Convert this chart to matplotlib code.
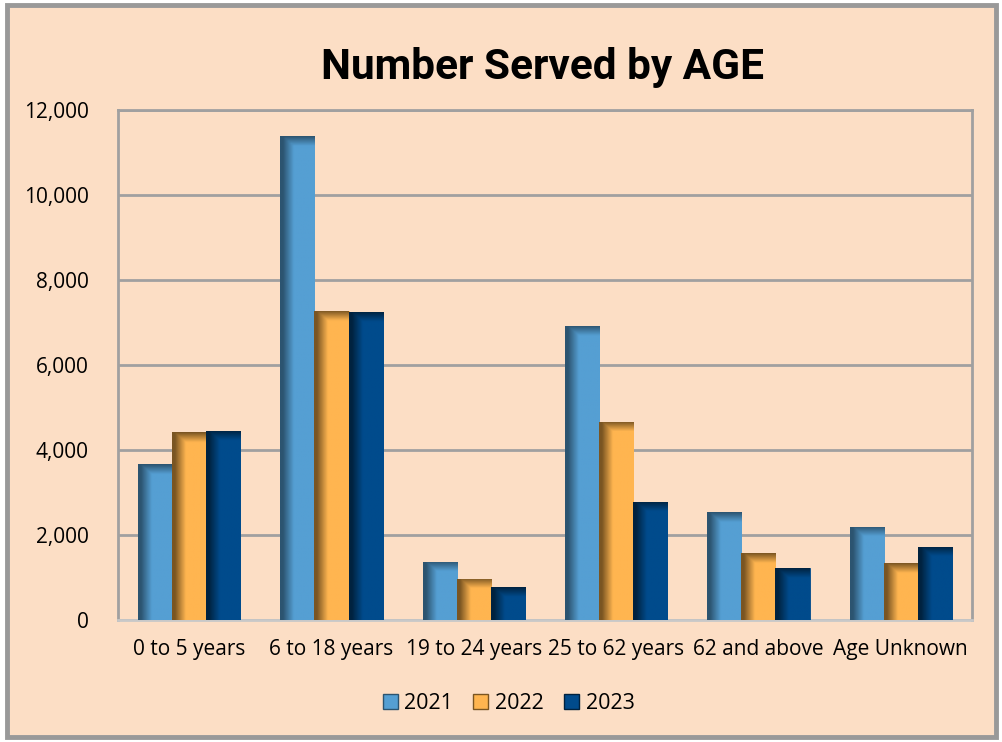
import numpy as np
import matplotlib.pyplot as plt
from matplotlib.colors import to_rgb
from matplotlib.patches import Rectangle

categories = ['0 to 5 years', '6 to 18 years', '19 to 24 years', '25 to 62 years',
              '62 and above', 'Age Unknown']
years = ['2021', '2022', '2023']
v2021 = [3670, 11390, 1365, 6920, 2540, 2190]
v2022 = [4420, 7270, 965, 4660, 1575, 1340]
v2023 = [4450, 7250, 775, 2780, 1220, 1720]

light = ['#559fd3', '#ffb550', '#004b8c']
dark = ['#2c5470', '#7a5522', '#00223f']
bg = '#fcdec5'

fig = plt.figure(figsize=(10.03, 7.42), dpi=100, facecolor='white')
fig.patches.append(Rectangle((0.007, 0.007), 0.986, 0.986, transform=fig.transFigure,
                             facecolor=bg, edgecolor='#999999', linewidth=3.5, zorder=-10))
ax = fig.add_axes([0.1176, 0.1644, 0.8514, 0.6874])
ax.set_facecolor(bg)

x = np.arange(len(categories))
w = 0.24
ax.set_xlim(-0.5, len(categories) - 0.5)
ax.set_ylim(0, 12000)


def shaded_bar(xc, h, c_light, c_dark):
    bar = ax.bar(xc, h, w, color=c_light, edgecolor=c_light, linewidth=0.6, zorder=3)[0]
    lt = np.array(to_rgb(c_light))
    dk = np.array(to_rgb(c_dark))
    nx = 60
    fx = np.linspace(0, 1, nx)
    t = np.clip((fx - 0.08) / 0.32, 0, 1)
    rows = 200
    fy = np.linspace(1, 0, rows) * h  # top row first
    bevel = 230.0
    ty = np.clip((h - fy) / bevel, 0, 1)
    tt = np.minimum(t[None, :], ty[:, None])
    img = dk[None, None, :] * (1 - tt[..., None]) + lt[None, None, :] * tt[..., None]
    im = ax.imshow(img, extent=(xc - w / 2, xc + w / 2, 0, h), aspect='auto',
                   interpolation='bilinear', zorder=3.5)
    im.set_clip_path(bar)
    return bar


series = [v2021, v2022, v2023]
for i, vals in enumerate(series):
    for j, v in enumerate(vals):
        shaded_bar(x[j] + (i - 1) * w, v, light[i], dark[i])

ax.set_xlim(-0.5, len(categories) - 0.5)
ax.set_ylim(0, 12000)
ax.set_yticks(range(0, 12001, 2000))
ax.set_yticklabels([f'{t:,}' for t in range(0, 12001, 2000)])
ax.set_xticks(x)
ax.set_xticklabels(categories)
ax.tick_params(length=0, labelsize=15)
for lab in ax.get_xticklabels() + ax.get_yticklabels():
    lab.set_fontfamily('Open Sans')
ax.tick_params(axis='x', pad=14)
ax.tick_params(axis='y', pad=21)
ax.grid(axis='y', color='#a0a0a0', linewidth=2, zorder=1)
for s in ['left', 'right', 'top']:
    ax.spines[s].set_color('#a0a0a0')
    ax.spines[s].set_linewidth(2)
ax.spines['bottom'].set_color('#c8c8c8')
ax.spines['bottom'].set_linewidth(2)

fig.text(0.541, 0.909, 'Number Served by AGE', ha='center', va='center',
         fontsize=30.5, fontweight='bold', family='Roboto')

handles = [Rectangle((0, 0), 1, 1, facecolor=light[i], edgecolor=dark[i]) for i in range(3)]
fig.legend(handles, years, loc='center', bbox_to_anchor=(0.507, 0.052), ncol=3, frameon=False,
           prop={'family': 'Open Sans', 'size': 15.5}, handlelength=0.7, handleheight=0.7,
           handletextpad=0.3, columnspacing=0.95)

fig.savefig('out.png', dpi=100, facecolor='white')
